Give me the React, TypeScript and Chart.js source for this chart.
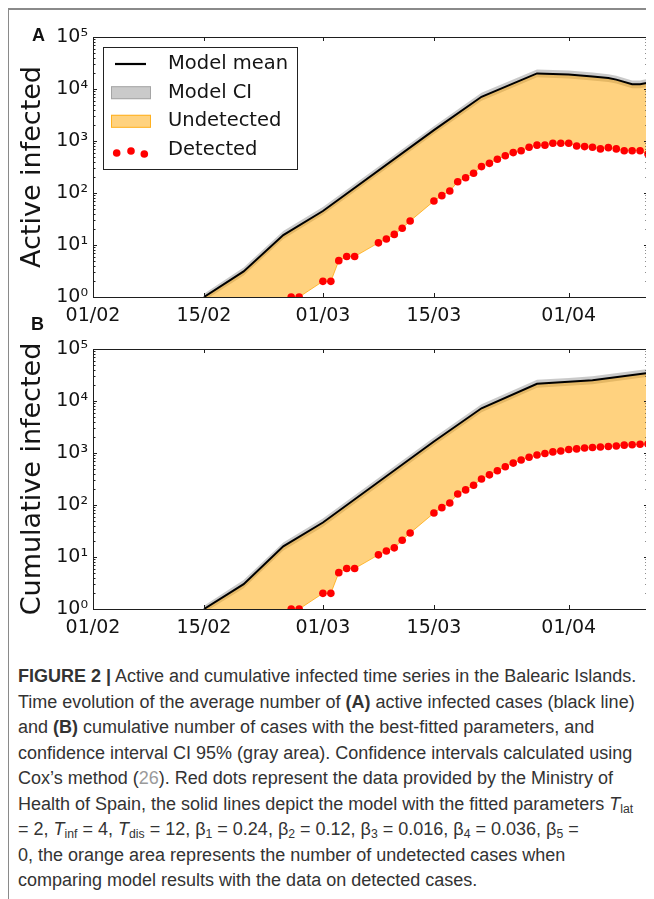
import React, { useEffect, useRef } from 'react';
import { Chart, registerables } from 'chart.js';

Chart.register(...registerables);

// ---------------- data ----------------
// x values are days since 01/02 (2020, leap year)
const xTickDays = [0, 14, 29, 43, 60];
const xTickLabels = ['01/02', '15/02', '01/03', '15/03', '01/04'];
const yTickValues = [1, 10, 100, 1000, 10000, 100000];
const yTickLabels = ['10⁰', '10¹', '10²', '10³', '10⁴', '10⁵'];
const legendLabels = ['Model mean', 'Model CI', 'Undetected', 'Detected'];

// Panel A: active infected
const modelDaysA = [14, 19, 24, 29, 43, 49, 56, 60, 63, 65, 66, 68, 69, 70];
const modelMeanA = [1, 3.1, 15.5, 45, 1620, 7080, 19950, 19050, 17380, 16220, 15140, 12300, 12300, 13180];
const ciUpperA = [1.15, 3.7, 18.5, 54, 1930, 8430, 23700, 22700, 20700, 19300, 18000, 14600, 14600, 15700];
const ciLowerA = [0.85, 2.6, 13.0, 38, 1360, 5950, 16800, 16000, 14600, 13600, 12700, 10300, 10300, 11100];

// Panel B: cumulative infected
const modelDaysB = [14, 19, 24, 29, 43, 49, 56, 60, 63, 70];
const modelMeanB = [1, 3.0, 16, 46, 1660, 7240, 21400, 23400, 25100, 34700];
const ciUpperB = [1.15, 3.6, 19, 55, 1980, 8620, 25500, 27800, 29900, 41300];
const ciLowerB = [0.85, 2.5, 13.4, 38, 1390, 6080, 18000, 19700, 21100, 29200];

// Detected cases (red dots)
const detectedDays = [25, 26, 29, 30, 31, 32, 33, 36, 37, 38, 39, 40,
  43, 44, 45, 46, 47, 48, 49, 50, 51, 52, 53, 54, 55, 56, 57, 58, 59, 60,
  61, 62, 63, 64, 65, 66, 67, 68, 69, 70];
const detectedA = [1, 1, 2, 2, 5, 6, 6, 11, 13, 16, 21, 29,
  70, 89, 109, 165, 196, 240, 322, 372, 446, 522, 598, 650, 757, 833, 833, 907, 907, 907,
  800, 780, 757, 705, 745, 705, 650, 650, 650, 562];
const detectedB = [1, 1, 2, 2, 5, 6, 6, 11, 13, 15, 21, 29,
  70, 89, 109, 163, 195, 240, 316, 380, 457, 545, 640, 735, 826, 915, 975, 1050, 1095, 1170,
  1200, 1250, 1280, 1300, 1330, 1365, 1415, 1440, 1470, 1490];

// Days with zero detected cases (plotted below the 10^0 floor of the log axis)
const zeroCaseDays = [14, 24];
const zeroCaseValues = [0.1, 0.1];

// ---------------- styles ----------------
const TEXT = '#141414';
const SPINE = '#1e1e1e';
const CI_FILL = 'rgba(128,128,128,0.42)';
const ORANGE_FILL = 'rgba(255,165,0,0.5)';
const ORANGE_EDGE = 'rgba(255,165,0,0.75)';
const MPL_FONT = 'DejaVu Sans';

const pts = (xs: number[], ys: number[]) => xs.map((x, i) => ({ x, y: ys[i] }));

const framePlugin = {
  id: 'mplFrame',
  afterDatasetsDraw(chart: any) {
    const { ctx, chartArea: a, scales } = chart;
    const xs = scales.x;
    const ys = scales.y;
    ctx.save();
    ctx.strokeStyle = SPINE;
    ctx.lineWidth = 1;
    ctx.beginPath();
    for (const t of xs.ticks) {
      const px = Math.round(xs.getPixelForValue(t.value)) + 0.5;
      ctx.moveTo(px, a.bottom);
      ctx.lineTo(px, a.bottom - 4);
      ctx.moveTo(px, a.top);
      ctx.lineTo(px, a.top + 4);
    }
    for (const t of ys.ticks) {
      const py = Math.round(ys.getPixelForValue(t.value)) + 0.5;
      ctx.moveTo(a.left, py);
      ctx.lineTo(a.left + 4, py);
      ctx.moveTo(a.right, py);
      ctx.lineTo(a.right - 4, py);
    }
    for (let k = 0; k < 5; k++) {
      for (let m = 2; m <= 9; m++) {
        const py = Math.round(ys.getPixelForValue(m * Math.pow(10, k))) + 0.5;
        ctx.moveTo(a.left, py);
        ctx.lineTo(a.left + 2.5, py);
        ctx.moveTo(a.right, py);
        ctx.lineTo(a.right - 2.5, py);
      }
    }
    ctx.stroke();
    ctx.strokeRect(a.left + 0.5, a.top + 0.5, a.right - a.left, a.bottom - a.top);
    ctx.restore();
  },
};

const legendPlugin = {
  id: 'boxLegend',
  afterDraw(chart: any, _args: any, opts: any) {
    if (!opts || !opts.show) return;
    const { ctx, chartArea: a } = chart;
    const bx = Math.round(a.left) + 10;
    const by = Math.round(a.top) + 10;
    const bw = 194;
    const bh = 122;
    const rows = [17, 45.7, 74.3, 103];
    ctx.save();
    ctx.fillStyle = '#fff';
    ctx.fillRect(bx, by, bw, bh);
    ctx.strokeStyle = '#222';
    ctx.lineWidth = 1;
    ctx.strokeRect(bx + 0.5, by + 0.5, bw, bh);
    // mean line
    ctx.strokeStyle = '#000';
    ctx.lineWidth = 2.2;
    ctx.beginPath();
    ctx.moveTo(bx + 12, by + rows[0]);
    ctx.lineTo(bx + 43, by + rows[0]);
    ctx.stroke();
    // CI patch
    ctx.lineWidth = 1;
    ctx.fillStyle = CI_FILL;
    ctx.fillRect(bx + 8, by + rows[1] - 6.5, 40, 13);
    ctx.strokeStyle = 'rgba(128,128,128,0.5)';
    ctx.strokeRect(bx + 8.5, by + rows[1] - 6, 39, 12);
    // orange patch
    ctx.fillStyle = ORANGE_FILL;
    ctx.fillRect(bx + 8, by + rows[2] - 6.5, 40, 13);
    ctx.strokeStyle = ORANGE_EDGE;
    ctx.strokeRect(bx + 8.5, by + rows[2] - 6, 39, 12);
    // dots
    ctx.fillStyle = '#ff0000';
    const dx = [13.7, 28, 41.3];
    const dy = [3, 1, 4];
    for (let i = 0; i < 3; i++) {
      ctx.beginPath();
      ctx.arc(bx + dx[i], by + rows[3] + dy[i], 3.8, 0, Math.PI * 2);
      ctx.fill();
    }
    // labels
    ctx.fillStyle = TEXT;
    ctx.font = `19.5px "${MPL_FONT}"`;
    ctx.textBaseline = 'middle';
    ctx.textAlign = 'left';
    legendLabels.forEach((t, i) => ctx.fillText(t, bx + 65, by + rows[i]));
    ctx.restore();
  },
};

type PanelProps = {
  yTitle: string;
  modelDays: number[];
  mean: number[];
  ciUp: number[];
  ciLo: number[];
  detected: number[];
  legend: boolean;
  top: number;
  height: number;
  areaTop: number;
  areaBottom: number;
};

function Panel(p: PanelProps) {
  const ref = useRef<HTMLCanvasElement>(null);
  useEffect(() => {
    const canvas = ref.current;
    if (!canvas) return;
    const chart = new Chart(canvas, {
      type: 'line',
      data: {
        datasets: [
          { label: 'Model CI', data: pts(p.modelDays, p.ciUp), borderColor: 'transparent', borderWidth: 0, pointRadius: 0, backgroundColor: CI_FILL, fill: '+1', order: 4, clip: 0 } as any,
          { label: 'CI lower', data: pts(p.modelDays, p.ciLo), borderColor: 'transparent', borderWidth: 0, pointRadius: 0, fill: false, order: 4, clip: 0 } as any,
          { label: 'Model mean', data: pts(p.modelDays, p.mean), borderColor: '#000', borderWidth: 2, pointRadius: 0, backgroundColor: ORANGE_FILL, fill: '+1', order: 3, clip: 0 } as any,
          { label: 'Undetected', data: pts([...zeroCaseDays, ...detectedDays], [...zeroCaseValues, ...p.detected]), borderColor: ORANGE_EDGE, borderWidth: 1, pointRadius: 0, fill: false, order: 2, clip: 0 } as any,
          { label: 'Detected', data: pts(detectedDays, p.detected), showLine: false, pointRadius: 3.8, pointBackgroundColor: '#ff0000', pointBorderColor: '#ff0000', pointBorderWidth: 0, order: 1, clip: 0 } as any,
        ],
      },
      options: {
        responsive: false,
        animation: false,
        events: [],
        layout: { padding: { top: p.areaTop, right: 6, left: 0, bottom: 0 } },
        plugins: {
          legend: { display: false },
          tooltip: { enabled: false },
          boxLegend: { show: p.legend },
        } as any,
        scales: {
          x: {
            type: 'linear',
            min: 0,
            max: 70,
            afterBuildTicks: (s: any) => { s.ticks = xTickDays.map((v) => ({ value: v })); },
            afterFit: (s: any) => { s.height = p.height - p.areaBottom; },
            grid: { display: false, drawTicks: false },
            border: { display: false },
            ticks: {
              autoSkip: false,
              maxRotation: 0,
              padding: 8,
              color: TEXT,
              font: { family: MPL_FONT, size: 19 },
              callback: (_v: any, i: number) => xTickLabels[i],
            },
          },
          y: {
            type: 'logarithmic',
            min: 1,
            max: 100000,
            afterBuildTicks: (s: any) => { s.ticks = yTickValues.map((v) => ({ value: v })); },
            afterFit: (s: any) => { s.width = 85; },
            grid: { display: false, drawTicks: false },
            border: { display: false },
            ticks: {
              autoSkip: false,
              padding: 5,
              color: TEXT,
              font: { family: MPL_FONT, size: 19 },
              callback: (_v: any, i: number) => yTickLabels[i],
            },
            title: {
              display: true,
              text: p.yTitle,
              color: TEXT,
              font: { family: MPL_FONT, size: 27 },
              padding: { top: 9, bottom: 0 },
            },
          },
        } as any,
      },
      plugins: [framePlugin, legendPlugin],
    });
    return () => chart.destroy();
  }, []);
  return (
    <canvas
      ref={ref}
      width={646}
      height={p.height}
      style={{ position: 'absolute', left: 0, top: p.top, width: 646, height: p.height }}
    />
  );
}

const captionFont = '"Liberation Sans Narrow", "Liberation Sans", Arial, sans-serif';

export default function App() {
  const lineTop = (i: number) => 656 + i * 25.5;
  const cap = (i: number): React.CSSProperties => ({
    position: 'absolute',
    left: 10,
    top: lineTop(i),
    whiteSpace: 'nowrap',
    fontFamily: captionFont,
    fontSize: 18,
    lineHeight: '25px',
    color: '#333',
  });
  const sub: React.CSSProperties = { fontSize: '0.68em', verticalAlign: '-0.25em', lineHeight: 0 };
  const letter: React.CSSProperties = {
    position: 'absolute',
    fontFamily: '"Liberation Sans", Arial, sans-serif',
    fontWeight: 'bold',
    fontSize: 18,
    color: '#111',
    lineHeight: '18px',
  };
  return (
    <div style={{ position: 'relative', width: 646, height: 891, overflow: 'hidden' }}>
      <div style={{ position: 'absolute', left: -1, top: 0, width: 647, height: 891, borderTop: '2px solid #8a8a8a', borderLeft: '2px solid #8a8a8a', boxSizing: 'border-box' }} />
      <Panel yTitle="Active infected" modelDays={modelDaysA} mean={modelMeanA} ciUp={ciUpperA} ciLo={ciLowerA} detected={detectedA} legend={true} top={0} height={320} areaTop={29} areaBottom={289} />
      <Panel yTitle="Cumulative infected" modelDays={modelDaysB} mean={modelMeanB} ciUp={ciUpperB} ciLo={ciLowerB} detected={detectedB} legend={false} top={320} height={320} areaTop={21} areaBottom={281} />
      <div style={{ ...letter, left: 24, top: 18 }}>A</div>
      <div style={{ ...letter, left: 23, top: 307 }}>B</div>
      <div style={cap(0)}><b>FIGURE 2 |</b> Active and cumulative infected time series in the Balearic Islands.</div>
      <div style={cap(1)}>Time evolution of the average number of <b>(A)</b> active infected cases (black line)</div>
      <div style={cap(2)}>and <b>(B)</b> cumulative number of cases with the best-fitted parameters, and</div>
      <div style={cap(3)}>confidence interval CI 95% (gray area). Confidence intervals calculated using</div>
      <div style={cap(4)}>Cox’s method (<span style={{ color: '#9a9a9a' }}>26</span>). Red dots represent the data provided by the Ministry of</div>
      <div style={cap(5)}>Health of Spain, the solid lines depict the model with the fitted parameters <i>T</i><span style={sub}>lat</span></div>
      <div style={cap(6)}>= 2, <i>T</i><span style={sub}>inf</span> = 4, <i>T</i><span style={sub}>dis</span> = 12, β<span style={sub}>1</span> = 0.24, β<span style={sub}>2</span> = 0.12, β<span style={sub}>3</span> = 0.016, β<span style={sub}>4</span> = 0.036, β<span style={sub}>5</span> =</div>
      <div style={cap(7)}>0, the orange area represents the number of undetected cases when</div>
      <div style={cap(8)}>comparing model results with the data on detected cases.</div>
    </div>
  );
}
